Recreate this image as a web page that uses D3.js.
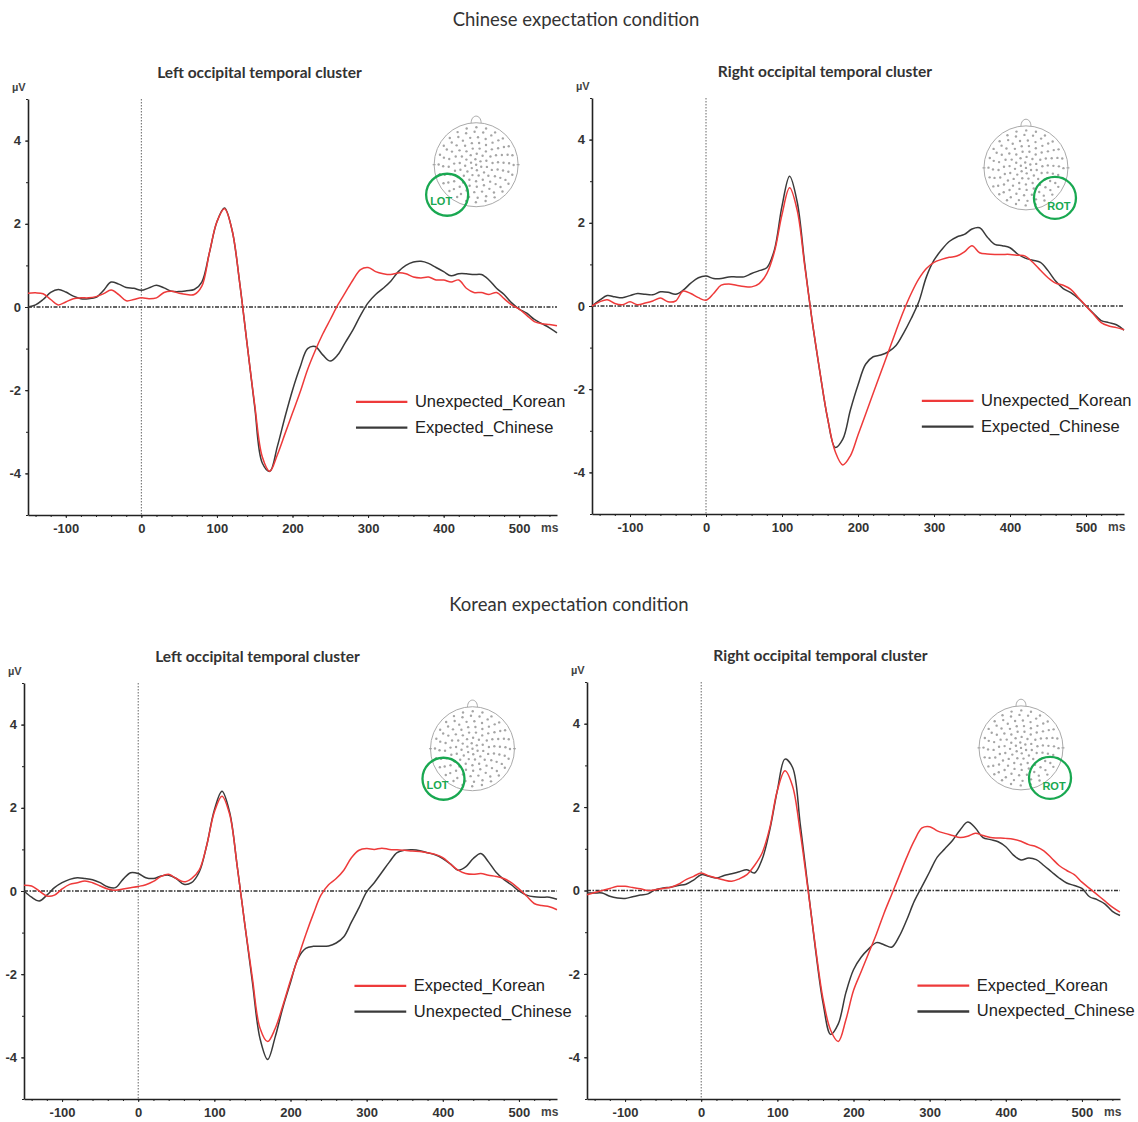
<!DOCTYPE html>
<meta charset="utf-8">
<style>
body { margin: 0; background: #fff; }
.row-title { font: 18.5px Lato, "Open Sans", sans-serif; fill: #333; text-anchor: middle; }
.panel-title { font: bold 15.5px Lato, "Open Sans", sans-serif; fill: #333; text-anchor: middle; }
.axis text { font: bold 13px "Liberation Sans", Arial, sans-serif; fill: #333; }
.axis path, .axis line { stroke: #222; }
.unit { font: bold 11px "Liberation Sans", Arial, sans-serif; fill: #444; }
.legend text { font: 16.5px "Liberation Sans", Arial, sans-serif; fill: #222; }
.cluster { font: bold 11px "Liberation Sans Narrow", "Liberation Sans", Arial, sans-serif; fill: #19a851; text-anchor: middle; }
</style>
<svg width="1138" height="1122"></svg>
<script src="https://d3js.org/d3.v7.min.js"></script>
<script>

// sampling grid, ms
var timeMs = d3.range(-150, 551, 10);

// Chinese expectation condition, left occipital temporal cluster
var chineseLeftKorean = [0.33,0.34,0.32,0.18,0.05,0.12,0.2,0.22,0.22,0.25,
  0.32,0.41,0.3,0.15,0.18,0.22,0.2,0.22,0.35,0.38,
  0.33,0.3,0.3,0.5,1.3,2.05,2.36,1.85,0.6,-0.9,
  -2.35,-3.6,-3.95,-3.55,-3.05,-2.55,-2.05,-1.5,-1.05,-0.65,
  -0.3,0.05,0.35,0.65,0.9,0.95,0.85,0.8,0.78,0.82,
  0.8,0.72,0.7,0.72,0.65,0.65,0.6,0.65,0.45,0.35,
  0.35,0.3,0.35,0.2,0.05,-0.05,-0.2,-0.35,-0.4,-0.42,-0.45];
var chineseLeftChinese = [0,0.05,0.18,0.35,0.42,0.36,0.26,0.2,0.2,0.23,
  0.4,0.6,0.55,0.47,0.45,0.4,0.46,0.52,0.46,0.38,
  0.37,0.39,0.42,0.6,1.3,2.05,2.38,1.85,0.6,-0.9,
  -2.4,-3.75,-3.95,-3.35,-2.65,-2.0,-1.45,-1.0,-0.95,-1.15,
  -1.3,-1.15,-0.85,-0.55,-0.2,0.1,0.3,0.45,0.62,0.85,
  1.0,1.08,1.1,1.05,0.95,0.85,0.75,0.8,0.8,0.78,
  0.78,0.65,0.45,0.3,0.1,-0.05,-0.15,-0.3,-0.4,-0.5,-0.62];

// Chinese expectation condition, right occipital temporal cluster
var chineseRightKorean = [0,0.1,0.15,0.06,0.03,0.1,0.03,0.07,0.12,0.19,
  0.1,0.12,0.36,0.3,0.2,0.14,0.3,0.5,0.53,0.5,
  0.47,0.46,0.54,0.78,1.3,2.2,2.84,2.3,0.95,-0.4,
  -1.6,-2.7,-3.5,-3.82,-3.6,-3.1,-2.6,-2.1,-1.6,-1.1,
  -0.6,-0.12,0.3,0.65,0.9,1.05,1.12,1.17,1.2,1.3,
  1.45,1.28,1.25,1.24,1.24,1.24,1.22,1.2,1.05,0.86,
  0.68,0.55,0.5,0.4,0.2,0,-0.2,-0.4,-0.48,-0.52,-0.57];
var chineseRightChinese = [0,0.14,0.25,0.22,0.2,0.25,0.3,0.28,0.27,0.34,
  0.33,0.28,0.38,0.55,0.68,0.72,0.66,0.66,0.7,0.7,
  0.7,0.78,0.85,0.92,1.35,2.4,3.12,2.5,1.0,-0.4,
  -1.6,-2.7,-3.4,-3.2,-2.5,-1.9,-1.4,-1.22,-1.18,-1.1,
  -0.95,-0.65,-0.3,0.1,0.7,1.1,1.35,1.55,1.66,1.72,
  1.85,1.88,1.66,1.48,1.45,1.4,1.25,1.15,1.1,1.05,
  0.85,0.6,0.42,0.32,0.18,0,-0.18,-0.35,-0.4,-0.45,-0.58];

// Korean expectation condition, left occipital temporal cluster
var koreanLeftKorean = [0.14,0.12,0,-0.12,-0.1,0.05,0.16,0.2,0.24,0.2,
  0.12,0.05,0.02,0.05,0.08,0.11,0.15,0.23,0.35,0.4,
  0.3,0.22,0.3,0.5,1.1,1.9,2.28,1.85,0.6,-0.8,
  -2.1,-3.3,-3.62,-3.3,-2.75,-2.15,-1.6,-1.05,-0.55,-0.1,
  0.15,0.3,0.5,0.8,0.98,1.02,1.0,1.03,1.0,0.99,
  0.98,0.96,0.95,0.92,0.88,0.8,0.65,0.5,0.42,0.4,
  0.42,0.38,0.35,0.3,0.2,0.05,-0.12,-0.3,-0.35,-0.38,-0.45];
var koreanLeftChinese = [0,-0.15,-0.24,-0.1,0.08,0.2,0.28,0.32,0.3,0.27,
  0.2,0.1,0.08,0.28,0.44,0.42,0.32,0.3,0.36,0.38,
  0.3,0.16,0.2,0.45,1.1,1.95,2.4,1.9,0.6,-0.8,
  -2.2,-3.55,-4.05,-3.5,-2.8,-2.2,-1.62,-1.38,-1.33,-1.33,
  -1.32,-1.25,-1.1,-0.75,-0.4,-0.02,0.2,0.45,0.7,0.92,
  0.98,0.99,0.97,0.92,0.87,0.78,0.65,0.5,0.58,0.78,
  0.9,0.7,0.45,0.28,0.15,0,-0.1,-0.14,-0.15,-0.15,-0.2];

// Korean expectation condition, right occipital temporal cluster
var koreanRightKorean = [-0.1,-0.05,0,0.05,0.1,0.1,0.07,0.04,0,0.02,
  0.05,0.08,0.15,0.26,0.34,0.42,0.35,0.3,0.25,0.22,
  0.28,0.38,0.6,0.9,1.5,2.4,2.87,2.5,1.4,0.05,
  -1.35,-2.6,-3.35,-3.62,-3.1,-2.4,-1.95,-1.5,-1.05,-0.55,
  -0.1,0.35,0.8,1.2,1.5,1.53,1.43,1.37,1.32,1.27,
  1.3,1.37,1.32,1.27,1.26,1.25,1.23,1.18,1.1,1.05,
  0.95,0.78,0.6,0.48,0.38,0.2,0.05,-0.1,-0.25,-0.4,-0.52];
var koreanRightChinese = [-0.06,-0.06,-0.06,-0.14,-0.18,-0.19,-0.15,-0.11,-0.08,0.02,
  0.06,0.08,0.12,0.15,0.25,0.38,0.34,0.3,0.36,0.4,
  0.45,0.5,0.42,0.75,1.45,2.4,3.15,2.95,1.6,0.1,
  -1.4,-2.7,-3.45,-3.2,-2.45,-1.9,-1.6,-1.4,-1.25,-1.3,
  -1.36,-1.1,-0.7,-0.25,0.1,0.45,0.8,1.0,1.2,1.45,
  1.64,1.5,1.27,1.22,1.17,1.05,0.85,0.73,0.78,0.74,
  0.6,0.45,0.3,0.18,0.12,0.05,-0.15,-0.22,-0.32,-0.5,-0.6];

var rowTitles = ["Chinese expectation condition", "Korean expectation condition"];
var panelTitles = ["Left occipital temporal cluster", "Right occipital temporal cluster"];
var chineseLegend = ["Unexpected_Korean", "Expected_Chinese"];
var koreanLegend = ["Expected_Korean", "Unexpected_Chinese"];
var xTicks = [-100, 0, 100, 200, 300, 400, 500];
var yTicks = [-4, -2, 0, 2, 4];

var red = "#ee3a3a", dark = "#3a3a3a";
var plain = function(d) { return String(d); };   // keep hyphen-minus like the original

var panels = [
  {left: 28, right: 557, top: 99, bottom: 515, title: panelTitles[0], red: chineseLeftKorean, black: chineseLeftChinese, legend: chineseLegend, cluster: "LOT", head: [443, 3.42]},
  {left: 592, right: 1124, top: 98, bottom: 514, title: panelTitles[1], red: chineseRightKorean, black: chineseRightChinese, legend: chineseLegend, cluster: "ROT", head: [421, 3.32]},
  {left: 24, right: 557, top: 683, bottom: 1099, title: panelTitles[0], red: koreanLeftKorean, black: koreanLeftChinese, legend: koreanLegend, cluster: "LOT", head: [439, 3.42]},
  {left: 587, right: 1120, top: 682, bottom: 1099, title: panelTitles[1], red: koreanRightKorean, black: koreanRightChinese, legend: koreanLegend, cluster: "ROT", head: [420, 3.42]}
];

var svg = d3.select("svg");
svg.append("rect").attr("width", 1138).attr("height", 1122).attr("fill", "#fff");

svg.append("text").attr("class", "row-title").attr("x", 576).attr("y", 26).text(rowTitles[0]);
svg.append("text").attr("class", "row-title").attr("x", 569).attr("y", 611).text(rowTitles[1]);

panels.forEach(function(p) {
  var x = d3.scaleLinear().domain([-150, 550]).range([p.left, p.right]);
  var y = d3.scaleLinear().domain([-5, 5]).range([p.bottom, p.top]);
  var g = svg.append("g");

  g.append("text").attr("class", "panel-title")
      .attr("x", (p.left + p.right) / 2 - 33).attr("y", p.top - 21).text(p.title);
  g.append("text").attr("class", "unit").attr("x", p.left - 16).attr("y", p.top - 8).text("µV");

  // zero lines
  g.append("line")
      .attr("x1", x(-150)).attr("x2", x(550)).attr("y1", y(0)).attr("y2", y(0))
      .attr("stroke", "#333").attr("stroke-width", 1.3).attr("stroke-dasharray", "4,1.5,1.5,1.5");
  g.append("line")
      .attr("x1", x(0)).attr("x2", x(0)).attr("y1", y(5)).attr("y2", y(-5))
      .attr("stroke", "#666").attr("stroke-width", 1).attr("stroke-dasharray", "1.5,1.5");

  // axes
  g.append("g").attr("class", "axis")
      .attr("transform", "translate(" + p.left + ",0)")
      .call(d3.axisLeft(y).tickValues(d3.range(-5, 6, 1)).tickSize(2).tickSizeOuter(0).tickFormat(""))
      .call(function(a) { a.select(".domain").attr("stroke-width", 1.6); });
  g.append("g").attr("class", "axis")
      .attr("transform", "translate(" + p.left + ",0)")
      .call(d3.axisLeft(y).tickValues(yTicks).tickSize(3).tickPadding(4).tickFormat(plain))
      .call(function(a) { a.select(".domain").remove(); });
  g.append("g").attr("class", "axis")
      .attr("transform", "translate(0," + p.bottom + ")")
      .call(d3.axisBottom(x).tickValues(d3.range(-140, 551, 20)).tickSize(2).tickSizeOuter(0).tickFormat(""))
      .call(function(a) { a.select(".domain").attr("stroke-width", 1.6); });
  g.append("g").attr("class", "axis")
      .attr("transform", "translate(0," + p.bottom + ")")
      .call(d3.axisBottom(x).tickValues(xTicks).tickSize(3).tickPadding(6).tickFormat(plain))
      .call(function(a) { a.select(".domain").remove(); });
  g.append("text").attr("class", "unit").style("font-size", "12px")
      .attr("x", p.right - 16).attr("y", p.bottom + 17).text("ms");

  // waveforms
  var line = d3.line()
      .x(function(d, i) { return x(timeMs[i]); })
      .y(function(d) { return y(d); })
      .curve(d3.curveCatmullRom.alpha(0.5));
  g.append("path").datum(p.black).attr("d", line)
      .attr("fill", "none").attr("stroke", dark).attr("stroke-width", 1.5);
  g.append("path").datum(p.red).attr("d", line)
      .attr("fill", "none").attr("stroke", red).attr("stroke-width", 1.5);

  // legend
  var lg = g.append("g").attr("class", "legend");
  [[red, -2.28], [dark, -2.9]].forEach(function(s, i) {
    lg.append("line").attr("x1", x(284)).attr("x2", x(352)).attr("y1", y(s[1])).attr("y2", y(s[1]))
        .attr("stroke", s[0]).attr("stroke-width", 2.4);
    lg.append("text").attr("x", x(362)).attr("y", y(s[1]) + 5).text(p.legend[i]);
  });

  // electrode map
  var cx = x(p.head[0]), cy = y(p.head[1]), r = 42;
  var hg = g.append("g");
  hg.append("path")
      .attr("d", "M" + (cx - 5) + "," + (cy - r + 0.5) + " C" + (cx - 5) + "," + (cy - r - 9) + " " + (cx + 5) + "," + (cy - r - 9) + " " + (cx + 5) + "," + (cy - r + 0.5))
      .attr("fill", "#fff").attr("stroke", "#aaa");
  hg.append("circle").attr("cx", cx).attr("cy", cy).attr("r", r)
      .attr("fill", "#fff").attr("stroke", "#aaa").attr("stroke-width", 1);
  [-1, 1].forEach(function(s) {
    hg.append("line").attr("x1", cx + s * (r - 1.5)).attr("x2", cx + s * (r + 1.5))
        .attr("y1", cy).attr("y2", cy).attr("stroke", "#999");
  });
  var rings = [[0, 1], [5.5, 6], [11, 11], [16.5, 15], [22, 19], [27.5, 22], [33, 24], [37.5, 24]];
  rings.forEach(function(rg) {
    for (var k = 0; k < rg[1]; k++) {
      var a = 2 * Math.PI * k / rg[1] + rg[0] * 0.07;
      hg.append("circle").attr("cx", cx + rg[0] * Math.cos(a)).attr("cy", cy + rg[0] * Math.sin(a))
          .attr("r", 1.2).attr("fill", "#a5a5a5");
    }
  });
  var side = p.cluster === "LOT" ? -1 : 1;
  var gx = cx + side * 29, gy = cy + 30;
  hg.append("circle").attr("cx", gx).attr("cy", gy).attr("r", 21)
      .attr("fill", "none").attr("stroke", "#19a851").attr("stroke-width", 2.3);
  hg.append("text").attr("class", "cluster")
      .attr("x", gx + (side < 0 ? -6 : 4)).attr("y", gy + (side < 0 ? 10 : 12)).text(p.cluster);
});

</script>
